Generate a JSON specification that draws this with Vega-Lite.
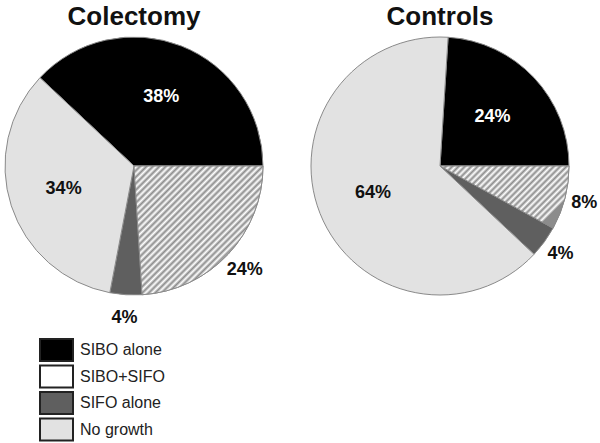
{
  "$schema": "https://vega.github.io/schema/vega-lite/v6.json",
  "padding": {"left": 3, "top": 4, "right": 0, "bottom": 0},
  "background": "white",
  "bounds": "flush",
  "resolve": {"legend": {"color": "independent"}},
  "datasets": {
    "pies": [
      {"panel": "Colectomy", "group": "SIBO alone", "pct": 38},
      {"panel": "Colectomy", "group": "SIBO+SIFO", "pct": 24},
      {"panel": "Colectomy", "group": "SIFO alone", "pct": 4},
      {"panel": "Colectomy", "group": "No growth", "pct": 34},
      {"panel": "Controls", "group": "SIBO alone", "pct": 24},
      {"panel": "Controls", "group": "SIBO+SIFO", "pct": 8},
      {"panel": "Controls", "group": "SIFO alone", "pct": 4},
      {"panel": "Controls", "group": "No growth", "pct": 64}
    ]
  },
  "config": {
    "view": {"stroke": null},
    "font": "Liberation Sans",
    "title": {"fontSize": 26, "fontWeight": "bold", "color": "#111", "anchor": "middle", "offset": 5, "frame": "group", "font": "Liberation Sans"},
    "concat": {"spacing": 48}
  },
  "hconcat": [
    {
      "title": "Colectomy",
      "width": 258,
      "height": 258,
      "data": {"name": "pies"},
      "transform": [
        {"filter": "datum.panel === 'Colectomy'"},
        {"calculate": "indexof(['SIBO+SIFO','SIFO alone','No growth','SIBO alone'], datum.group)", "as": "k"},
        {"stack": "pct", "groupby": [], "sort": [{"field": "k", "order": "ascending"}], "as": ["t0", "t1"]},
        {"calculate": "(datum.t0 + datum.t1) / 2", "as": "tm"},
        {"calculate": "datum.pct + '%'", "as": "lab"}
      ],
      "layer": [
        {
          "mark": {"type": "arc", "stroke": "#8a8a8a", "strokeWidth": 1},
          "encoding": {
            "theta": {"field": "t0", "type": "quantitative", "stack": null,
              "scale": {"domain": [0, 100], "range": [{"expr": "PI/2"}, {"expr": "PI*2.5"}]}},
            "theta2": {"field": "t1"},
            "color": {
              "field": "group", "type": "nominal",
              "scale": {"domain": ["SIBO alone", "SIBO+SIFO", "SIFO alone", "No growth"],
                        "range": ["#000000", "#ffffff", "#5f5f5f", "#e2e2e2"]},
              "legend": {
                "title": null,
                "orient": "none",
                "legendX": 42.5,
                "legendY": 304,
                "symbolType": "M-2.0625,-1.375H2.0625V1.375H-2.0625Z",
                "symbolSize": 256,
                "symbolStrokeColor": "#222222",
                "symbolStrokeWidth": 2,
                "labelFontSize": 16,
                "labelFont": "Liberation Sans",
                "labelColor": "#222222",
                "labelOffset": 14.5,
                "rowPadding": -3.5
              }
            }
          }
        },
        {
          "mark": {"type": "arc", "stroke": "#8a8a8a", "strokeWidth": 1,
            "fill": {
              "gradient": "linear", "x1": 0, "y1": 0, "x2": 1, "y2": 1,
              "stops": [
                {"offset": 0, "color": "#8c8c8c"}, {"offset": 0.0125, "color": "#ffffff"},
                {"offset": 0.025, "color": "#8c8c8c"}, {"offset": 0.0375, "color": "#ffffff"},
                {"offset": 0.05, "color": "#8c8c8c"}, {"offset": 0.0625, "color": "#ffffff"},
                {"offset": 0.075, "color": "#8c8c8c"}, {"offset": 0.0875, "color": "#ffffff"},
                {"offset": 0.1, "color": "#8c8c8c"}, {"offset": 0.1125, "color": "#ffffff"},
                {"offset": 0.125, "color": "#8c8c8c"}, {"offset": 0.1375, "color": "#ffffff"},
                {"offset": 0.15, "color": "#8c8c8c"}, {"offset": 0.1625, "color": "#ffffff"},
                {"offset": 0.175, "color": "#8c8c8c"}, {"offset": 0.1875, "color": "#ffffff"},
                {"offset": 0.2, "color": "#8c8c8c"}, {"offset": 0.2125, "color": "#ffffff"},
                {"offset": 0.225, "color": "#8c8c8c"}, {"offset": 0.2375, "color": "#ffffff"},
                {"offset": 0.25, "color": "#8c8c8c"}, {"offset": 0.2625, "color": "#ffffff"},
                {"offset": 0.275, "color": "#8c8c8c"}, {"offset": 0.2875, "color": "#ffffff"},
                {"offset": 0.3, "color": "#8c8c8c"}, {"offset": 0.3125, "color": "#ffffff"},
                {"offset": 0.325, "color": "#8c8c8c"}, {"offset": 0.3375, "color": "#ffffff"},
                {"offset": 0.35, "color": "#8c8c8c"}, {"offset": 0.3625, "color": "#ffffff"},
                {"offset": 0.375, "color": "#8c8c8c"}, {"offset": 0.3875, "color": "#ffffff"},
                {"offset": 0.4, "color": "#8c8c8c"}, {"offset": 0.4125, "color": "#ffffff"},
                {"offset": 0.425, "color": "#8c8c8c"}, {"offset": 0.4375, "color": "#ffffff"},
                {"offset": 0.45, "color": "#8c8c8c"}, {"offset": 0.4625, "color": "#ffffff"},
                {"offset": 0.475, "color": "#8c8c8c"}, {"offset": 0.4875, "color": "#ffffff"},
                {"offset": 0.5, "color": "#8c8c8c"}, {"offset": 0.5125, "color": "#ffffff"},
                {"offset": 0.525, "color": "#8c8c8c"}, {"offset": 0.5375, "color": "#ffffff"},
                {"offset": 0.55, "color": "#8c8c8c"}, {"offset": 0.5625, "color": "#ffffff"},
                {"offset": 0.575, "color": "#8c8c8c"}, {"offset": 0.5875, "color": "#ffffff"},
                {"offset": 0.6, "color": "#8c8c8c"}, {"offset": 0.6125, "color": "#ffffff"},
                {"offset": 0.625, "color": "#8c8c8c"}, {"offset": 0.6375, "color": "#ffffff"},
                {"offset": 0.65, "color": "#8c8c8c"}, {"offset": 0.6625, "color": "#ffffff"},
                {"offset": 0.675, "color": "#8c8c8c"}, {"offset": 0.6875, "color": "#ffffff"},
                {"offset": 0.7, "color": "#8c8c8c"}, {"offset": 0.7125, "color": "#ffffff"},
                {"offset": 0.725, "color": "#8c8c8c"}, {"offset": 0.7375, "color": "#ffffff"},
                {"offset": 0.75, "color": "#8c8c8c"}, {"offset": 0.7625, "color": "#ffffff"},
                {"offset": 0.775, "color": "#8c8c8c"}, {"offset": 0.7875, "color": "#ffffff"},
                {"offset": 0.8, "color": "#8c8c8c"}, {"offset": 0.8125, "color": "#ffffff"},
                {"offset": 0.825, "color": "#8c8c8c"}, {"offset": 0.8375, "color": "#ffffff"},
                {"offset": 0.85, "color": "#8c8c8c"}, {"offset": 0.8625, "color": "#ffffff"},
                {"offset": 0.875, "color": "#8c8c8c"}, {"offset": 0.8875, "color": "#ffffff"},
                {"offset": 0.9, "color": "#8c8c8c"}, {"offset": 0.9125, "color": "#ffffff"},
                {"offset": 0.925, "color": "#8c8c8c"}, {"offset": 0.9375, "color": "#ffffff"},
                {"offset": 0.95, "color": "#8c8c8c"}, {"offset": 0.9625, "color": "#ffffff"},
                {"offset": 0.975, "color": "#8c8c8c"}, {"offset": 0.9875, "color": "#ffffff"},
                {"offset": 1, "color": "#8c8c8c"}
              ]
            }},
          "transform": [{"filter": "datum.group === 'SIBO+SIFO'"}],
          "encoding": {
            "theta": {"field": "t0", "type": "quantitative", "stack": null},
            "theta2": {"field": "t1"}
          }
        },
        {
          "mark": {"type": "text", "radius": 74, "fontSize": 18, "fontWeight": "bold", "font": "Liberation Sans"},
          "transform": [{"filter": "datum.group === 'SIBO alone' || datum.group === 'No growth'"}],
          "encoding": {
            "theta": {"field": "tm", "type": "quantitative", "stack": null},
            "text": {"field": "lab"},
            "color": {"condition": {"test": "datum.group === 'SIBO alone'", "value": "#ffffff"}, "value": "#111111"}
          }
        },
        {
          "mark": {"type": "text", "radius": 152, "fontSize": 18, "fontWeight": "bold", "font": "Liberation Sans", "color": "#111111"},
          "transform": [{"filter": "datum.group === 'SIBO+SIFO' || datum.group === 'SIFO alone'"}],
          "encoding": {
            "theta": {"field": "tm", "type": "quantitative", "stack": null},
            "text": {"field": "lab"}
          }
        }
      ]
    },
    {
      "title": "Controls",
      "width": 258,
      "height": 258,
      "data": {"name": "pies"},
      "transform": [
        {"filter": "datum.panel === 'Controls'"},
        {"calculate": "indexof(['SIBO+SIFO','SIFO alone','No growth','SIBO alone'], datum.group)", "as": "k"},
        {"stack": "pct", "groupby": [], "sort": [{"field": "k", "order": "ascending"}], "as": ["t0", "t1"]},
        {"calculate": "(datum.t0 + datum.t1) / 2", "as": "tm"},
        {"calculate": "datum.pct + '%'", "as": "lab"}
      ],
      "layer": [
        {
          "mark": {"type": "arc", "stroke": "#8a8a8a", "strokeWidth": 1},
          "encoding": {
            "theta": {"field": "t0", "type": "quantitative", "stack": null,
              "scale": {"domain": [0, 100], "range": [{"expr": "PI/2"}, {"expr": "PI*2.5"}]}},
            "theta2": {"field": "t1"},
            "color": {"field": "group", "type": "nominal", "legend": null}
          }
        },
        {
          "mark": {"type": "arc", "stroke": "#8a8a8a", "strokeWidth": 1,
            "fill": {
              "gradient": "linear", "x1": 0, "y1": 0, "x2": 1, "y2": 0.48,
              "stops": [
                {"offset": 0, "color": "#8c8c8c"}, {"offset": 0.02, "color": "#ffffff"},
                {"offset": 0.04, "color": "#8c8c8c"}, {"offset": 0.06, "color": "#ffffff"},
                {"offset": 0.08, "color": "#8c8c8c"}, {"offset": 0.1, "color": "#ffffff"},
                {"offset": 0.12, "color": "#8c8c8c"}, {"offset": 0.14, "color": "#ffffff"},
                {"offset": 0.16, "color": "#8c8c8c"}, {"offset": 0.18, "color": "#ffffff"},
                {"offset": 0.2, "color": "#8c8c8c"}, {"offset": 0.22, "color": "#ffffff"},
                {"offset": 0.24, "color": "#8c8c8c"}, {"offset": 0.26, "color": "#ffffff"},
                {"offset": 0.28, "color": "#8c8c8c"}, {"offset": 0.3, "color": "#ffffff"},
                {"offset": 0.32, "color": "#8c8c8c"}, {"offset": 0.34, "color": "#ffffff"},
                {"offset": 0.36, "color": "#8c8c8c"}, {"offset": 0.38, "color": "#ffffff"},
                {"offset": 0.4, "color": "#8c8c8c"}, {"offset": 0.42, "color": "#ffffff"},
                {"offset": 0.44, "color": "#8c8c8c"}, {"offset": 0.46, "color": "#ffffff"},
                {"offset": 0.48, "color": "#8c8c8c"}, {"offset": 0.5, "color": "#ffffff"},
                {"offset": 0.52, "color": "#8c8c8c"}, {"offset": 0.54, "color": "#ffffff"},
                {"offset": 0.56, "color": "#8c8c8c"}, {"offset": 0.58, "color": "#ffffff"},
                {"offset": 0.6, "color": "#8c8c8c"}, {"offset": 0.62, "color": "#ffffff"},
                {"offset": 0.64, "color": "#8c8c8c"}, {"offset": 0.66, "color": "#ffffff"},
                {"offset": 0.68, "color": "#8c8c8c"}, {"offset": 0.7, "color": "#ffffff"},
                {"offset": 0.72, "color": "#8c8c8c"}, {"offset": 0.74, "color": "#ffffff"},
                {"offset": 0.76, "color": "#8c8c8c"}, {"offset": 0.78, "color": "#ffffff"},
                {"offset": 0.8, "color": "#8c8c8c"}, {"offset": 0.82, "color": "#ffffff"},
                {"offset": 0.84, "color": "#8c8c8c"}, {"offset": 0.86, "color": "#ffffff"},
                {"offset": 0.88, "color": "#8c8c8c"}, {"offset": 0.9, "color": "#ffffff"},
                {"offset": 0.92, "color": "#8c8c8c"}, {"offset": 0.94, "color": "#ffffff"},
                {"offset": 0.96, "color": "#8c8c8c"}, {"offset": 0.98, "color": "#ffffff"},
                {"offset": 1, "color": "#8c8c8c"}
              ]
            }},
          "transform": [{"filter": "datum.group === 'SIBO+SIFO'"}],
          "encoding": {
            "theta": {"field": "t0", "type": "quantitative", "stack": null},
            "theta2": {"field": "t1"}
          }
        },
        {
          "mark": {"type": "text", "radius": 72, "fontSize": 18, "fontWeight": "bold", "font": "Liberation Sans"},
          "transform": [{"filter": "datum.group === 'SIBO alone' || datum.group === 'No growth'"}],
          "encoding": {
            "theta": {"field": "tm", "type": "quantitative", "stack": null},
            "text": {"field": "lab"},
            "color": {"condition": {"test": "datum.group === 'SIBO alone'", "value": "#ffffff"}, "value": "#111111"}
          }
        },
        {
          "mark": {"type": "text", "radius": 149, "fontSize": 18, "fontWeight": "bold", "font": "Liberation Sans", "color": "#111111"},
          "transform": [{"filter": "datum.group === 'SIBO+SIFO' || datum.group === 'SIFO alone'"}],
          "encoding": {
            "theta": {"field": "tm", "type": "quantitative", "stack": null},
            "text": {"field": "lab"}
          }
        }
      ]
    }
  ]
}
